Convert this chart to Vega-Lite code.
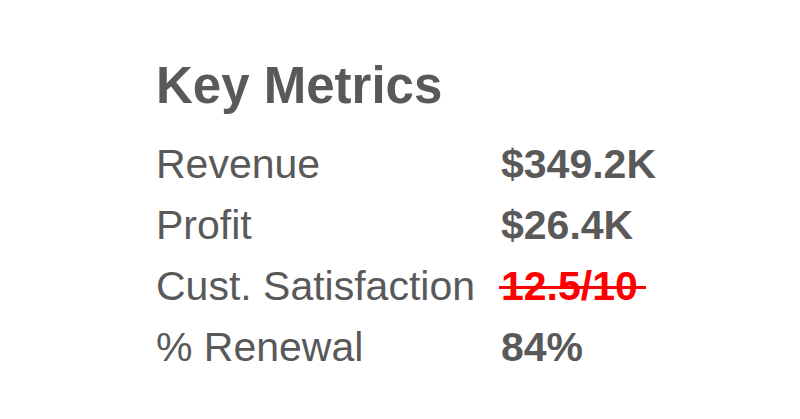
{
  "$schema": "https://vega.github.io/schema/vega-lite/v6.json",
  "description": "Key metrics text table",
  "autosize": "none",
  "padding": {"left": 156, "top": 135, "right": 299, "bottom": 40},
  "width": 345,
  "height": 244,
  "background": "white",
  "title": {
    "text": "Key Metrics",
    "anchor": "start",
    "frame": "group",
    "font": "Liberation Sans",
    "fontSize": 51,
    "fontWeight": "bold",
    "color": "#595959",
    "baseline": "alphabetic",
    "offset": -19
  },
  "data": {
    "values": [
      {"metric": "Revenue", "value": "$349.2K", "valid": true},
      {"metric": "Profit", "value": "$26.4K", "valid": true},
      {"metric": "Cust. Satisfaction", "value": "12.5/10", "valid": false},
      {"metric": "% Renewal", "value": "84%", "valid": true}
    ]
  },
  "encoding": {
    "y": {
      "field": "metric",
      "type": "nominal",
      "sort": null,
      "scale": {"type": "band", "paddingInner": 0, "paddingOuter": 0},
      "axis": null
    }
  },
  "layer": [
    {
      "mark": {
        "type": "text",
        "align": "left",
        "baseline": "middle",
        "font": "Liberation Sans",
        "fontSize": 41,
        "color": "#595959"
      },
      "encoding": {
        "x": {
          "datum": "Metric",
          "type": "nominal",
          "scale": {"type": "point", "domain": ["Metric", "Value"], "padding": 0},
          "axis": null
        },
        "text": {"field": "metric"}
      }
    },
    {
      "mark": {
        "type": "text",
        "align": "left",
        "baseline": "middle",
        "font": "Liberation Sans",
        "fontSize": 41,
        "fontWeight": "bold"
      },
      "encoding": {
        "x": {"datum": "Value", "type": "nominal"},
        "text": {"field": "value"},
        "color": {
          "condition": {"test": "!datum.valid", "value": "#ff0000"},
          "value": "#595959"
        }
      }
    },
    {
      "transform": [{"filter": "!datum.valid"}],
      "mark": {
        "type": "rule",
        "color": "#ff0000",
        "strokeWidth": 3,
        "xOffset": -2,
        "x2Offset": 145
      },
      "encoding": {
        "x": {"datum": "Value", "type": "nominal"},
        "x2": {"datum": "Value"}
      }
    }
  ],
  "config": {"view": {"stroke": null}}
}
